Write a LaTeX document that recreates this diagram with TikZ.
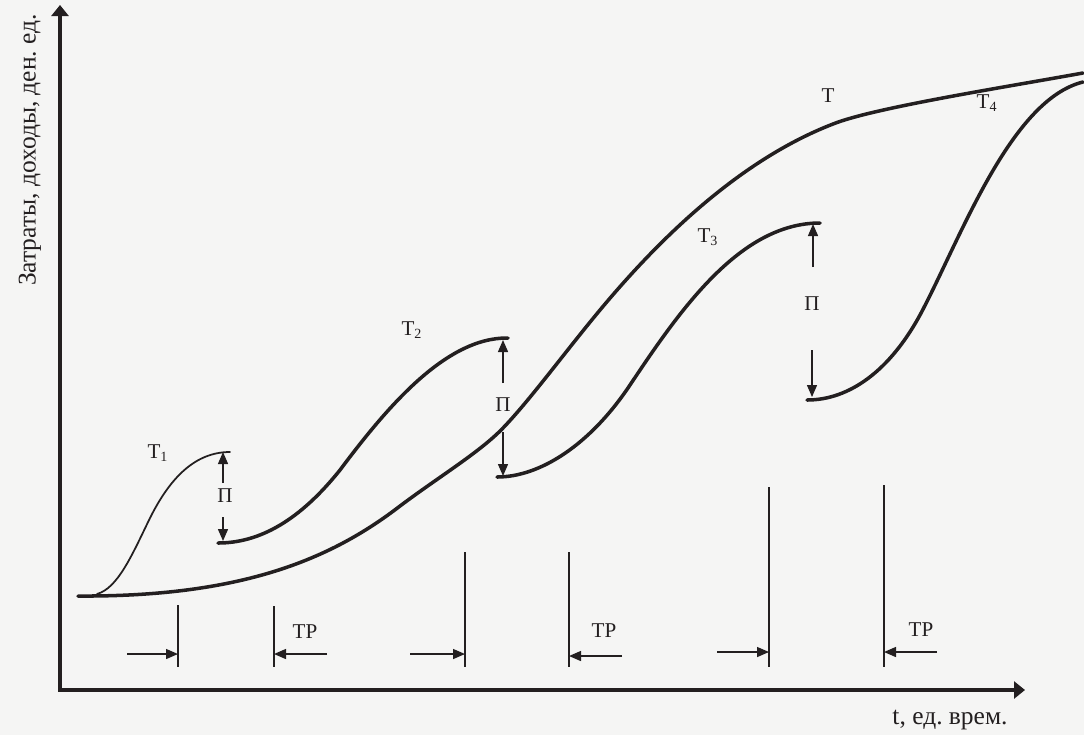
\documentclass[tikz,border=0pt]{standalone}
\usepackage{fontspec}
\setmainfont{Liberation Serif}
\usetikzlibrary{arrows.meta}
\definecolor{ink}{RGB}{35,31,32}
\definecolor{paper}{RGB}{245,245,244}

\begin{document}
\begin{tikzpicture}[
      x=0.02cm, y=-0.02cm, color=ink,
      font=\fontsize{12}{14}\selectfont,
      axis/.style={line width=1.8pt, -{Triangle[length=2.2mm, width=3.4mm]}},
      curve/.style={line width=2pt, line cap=round, line join=round},
      thincurve/.style={line width=1pt, line cap=round},
      sepline/.style={line width=1pt},
      arr/.style={-{Triangle[length=2.4mm, width=2mm]}, line width=0.8pt},
      lbl/.style={inner sep=1pt},
      axlbl/.style={inner sep=1pt, font=\fontsize{14.5}{16}\selectfont}
    ]
    \fill[paper] (0,0) rectangle (1084,735);
    \useasboundingbox (0,0) rectangle (1084,735);
    \coordinate (o) at (60,690);
    \coordinate (ytop) at (60,5);
    \coordinate (xend) at (1025,690);
    \draw[axis] (o) -- (ytop);
    \draw[axis] ([xshift=-0.9pt]o) -- (xend);
    \node[axlbl, rotate=90] (ylab) at (30,150) {Затраты, доходы, ден.~ед.};
    \node[axlbl] (xlab) at (950,720) {t, ед.~врем.};
    % curves
    \draw[thincurve] (97,594) .. controls (118,588) and (132,555) .. (150,518)
      .. controls (170,478) and (195,452) .. (230,452);
    \draw[curve] (78,596) .. controls (240,597) and (330,560) .. (400,506)
      .. controls (440,476) and (480,452) .. (503,428)
      .. controls (530,400) and (565,352) .. (600,310)
      .. controls (660,238) and (740,160) .. (833,124)
      .. controls (873,108) and (1000,88) .. (1083,73);
    \draw[curve] (218,543) .. controls (260,543) and (300,520) .. (340,470)
      .. controls (385,410) and (445,337) .. (508,338);
    \draw[curve] (497,477) .. controls (540,477) and (590,445) .. (630,385)
      .. controls (680,310) and (740,223) .. (820,223);
    \draw[curve] (807,400) .. controls (850,400) and (890,370) .. (920,315)
      .. controls (960,240) and (1010,100) .. (1083,82);
    \node[lbl] (t1) at (158,453) {Т\textsubscript{1}};
    \node[lbl] (t2) at (412,330) {Т\textsubscript{2}};
    \node[lbl] (t3) at (708,237) {Т\textsubscript{3}};
    \node[lbl] (t4) at (987,103) {Т\textsubscript{4}};
    \node[lbl] (t)  at (828,96)  {Т};
    % profit gaps
    \node[lbl] (p1) at (225,496) {П};
    \node[lbl] (p2) at (503,405) {П};
    \node[lbl] (p3) at (812,304) {П};
    \draw[arr] (223,483) -- (223,452);
    \draw[arr] (223,517) -- (223,541);
    \draw[arr] (503,383) -- (503,340);
    \draw[arr] (503,432) -- (503,476);
    \draw[arr] (813,267) -- (813,224);
    \draw[arr] (812,350) -- (812,397);
    % periods
    \draw[sepline] (178,605) -- (178,667);
    \draw[sepline, line width=0.8pt] (274,606) -- (274,667);
    \draw[sepline] (465,552) -- (465,667);
    \draw[sepline, line width=0.8pt] (569,552) -- (569,667);
    \draw[sepline] (769,487) -- (769,667);
    \draw[sepline, line width=0.8pt] (884,485) -- (884,667);
    \draw[arr] (127,654) -- (178,654);
    \draw[arr] (327,654) -- (274,654);
    \draw[arr] (410,654) -- (465,654);
    \draw[arr] (622,656) -- (569,656);
    \draw[arr] (717,652) -- (769,652);
    \draw[arr] (937,652) -- (884,652);
    \node[lbl] (tr1) at (305,632) {ТР};
    \node[lbl] (tr2) at (604,631) {ТР};
    \node[lbl] (tr3) at (921,630) {ТР};
  \end{tikzpicture}
\end{document}
